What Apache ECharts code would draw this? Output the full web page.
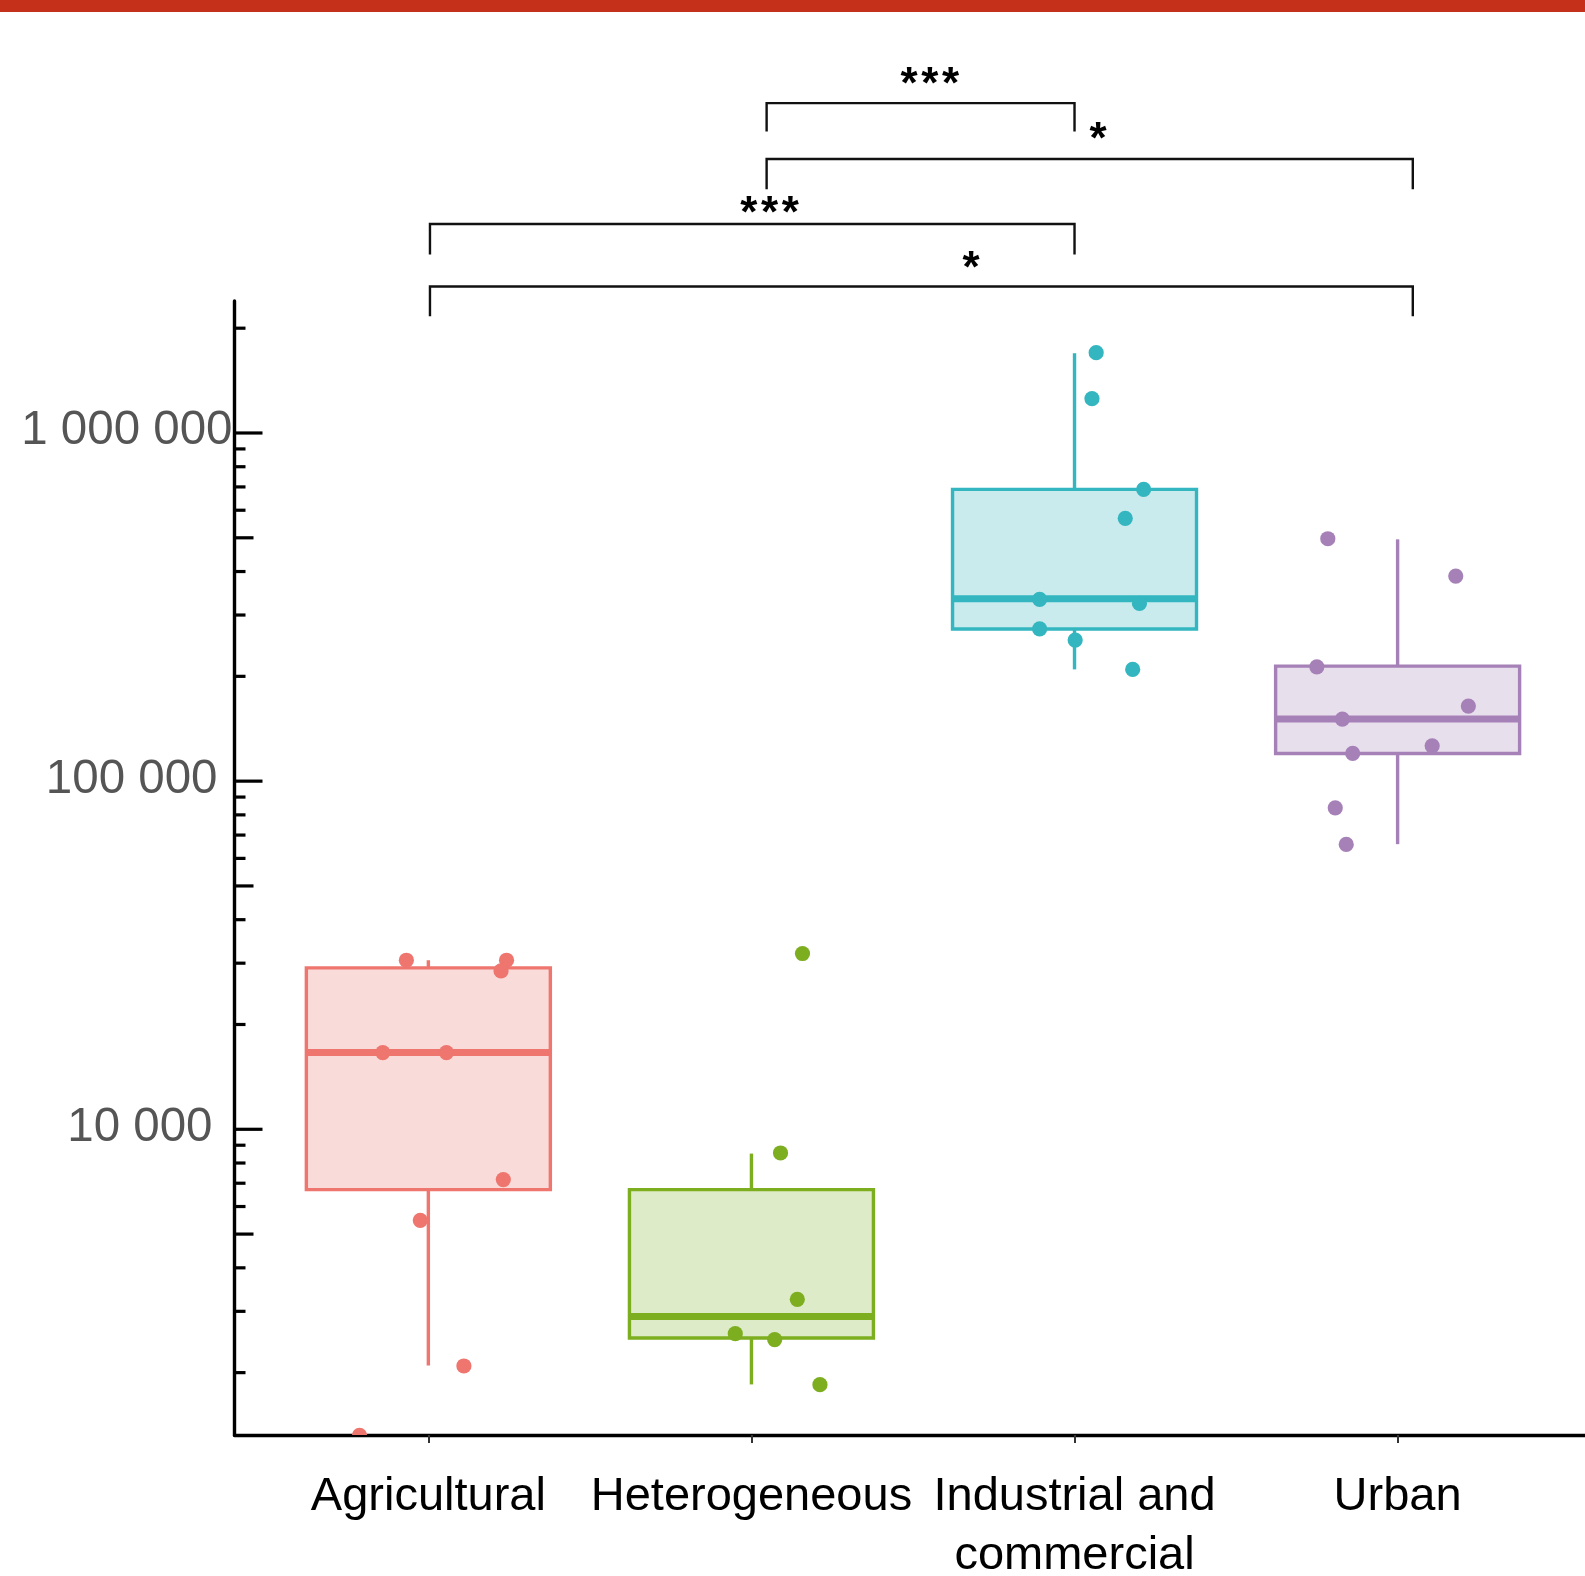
<!DOCTYPE html>
<html>
<head>
<meta charset="utf-8">
<script src="https://cdn.jsdelivr.net/npm/echarts@6/dist/echarts.min.js"></script>
<style>
html,body{margin:0;padding:0;background:#fff;}
#c{width:1585px;height:1576px;}
</style>
</head>
<body>
<div id="c"></div>
<script>
// ---------------- DATA ----------------
const categories = ['Agricultural', 'Heterogeneous', 'Industrial and\ncommercial', 'Urban'];
const categoryIndex = [1, 2, 3, 4];

// box statistics: [lower whisker, Q1, median, Q3, upper whisker]
const agriculturalBox  = [2098, 6709, 16610, 29080, 30590];
const heterogeneousBox = [1850, 2514, 2901, 6709, 8515];
const industrialBox    = [209400, 273400, 334100, 688900, 1694000];
const urbanBox         = [65920, 120100, 150800, 214000, 494900];

// observations: [jittered category position, value]
const agriculturalPoints = [[0.932,30590],[1.242,30590],[1.225,28500],[0.859,16610],[1.056,16610],[1.232,7170],[0.975,5476],[1.110,2090],[0.787,1320]];
const heterogeneousPoints = [[2.158,31980],[2.090,8549],[2.142,3248],[1.950,2588],[2.072,2488],[2.212,1847]];
const industrialPoints = [[3.067,1701000],[3.054,1255000],[3.214,688900],[3.157,568800],[2.892,332700],[3.201,324000],[2.892,273900],[3.002,254200],[3.180,209400]];
const urbanPoints = [[3.784,496900],[4.180,388200],[3.750,213000],[4.219,164300],[3.829,150800],[4.107,126300],[3.861,120100],[3.807,83820],[3.841,65780]];

// y axis ticks (log scale)
const yMajorTicks = [10000, 100000, 1000000];
const yMidTicks = [5000, 50000, 500000];
const yMinorTicks = [2000,3000,4000,6000,7000,8000,9000,
                     20000,30000,40000,60000,70000,80000,90000,
                     200000,300000,400000,600000,700000,800000,900000,
                     2000000];

// significance brackets
const bracketLeft   = [2.047, 2.047, 1.005, 1.005];
const bracketRight  = [3.000, 4.047, 3.000, 4.047];
const bracketBar    = [8.862e6, 6.124e6, 3.985e6, 2.635e6];
const bracketLegEnd = [7.339e6, 5.012e6, 3.256e6, 2.165e6];
const bracketLabels = ['*\u200A*\u200A*', '*', '*\u200A*\u200A*', '*'];
const bracketLabelX = [2.552, 3.073, 2.056, 2.680];
const bracketLabelY = [9.91e6, 6.89e6, 4.245e6, 2.935e6];

// ---------------- STYLE ----------------
const groupColors = ['#EE766F', '#7CAE1F', '#33B6BF', '#A681B8'];
const groupFills  = ['#F9DCDA', '#DEEBC8', '#CAEBEE', '#E8DFEC'];
const FONT = "'Liberation Sans', Arial, sans-serif";
const X_MIN = 0.4, X_MAX = 4.58, Y_MIN = 1324, Y_MAX = 2394000;
const BOX_HALF = 0.3776;
const TICK_LEN = [28, 19, 11];

const boxStats = [agriculturalBox, heterogeneousBox, industrialBox, urbanBox];
const pointSets = [agriculturalPoints, heterogeneousPoints, industrialPoints, urbanPoints];

function fmt(v) { return String(Math.round(v)).replace(/\B(?=(\d{3})+(?!\d))/g, ' '); }

const boxData = boxStats.map((b, i) => [categoryIndex[i]].concat(b));
const tickData = [].concat(
  yMajorTicks.map(v => [X_MIN, v, 0]),
  yMidTicks.map(v => [X_MIN, v, 1]),
  yMinorTicks.map(v => [X_MIN, v, 2])
);
const bracketData = bracketLeft.map((l, i) => [l, bracketBar[i], bracketRight[i], bracketLegEnd[i]]);
const bracketLabelData = bracketLabelX.map((x, i) => [x, bracketLabelY[i]]);

const chart = echarts.init(document.getElementById('c'), null, {renderer: 'canvas'});

const series = [];

// boxes
series.push({
  type: 'custom', name: 'boxes', data: boxData, z: 3, silent: true,
  renderItem: function (params, api) {
    const x = api.value(0);
    const lo = api.coord([x, api.value(1)]);
    const q1 = api.coord([x, api.value(2)]);
    const med = api.coord([x, api.value(3)]);
    const q3 = api.coord([x, api.value(4)]);
    const hi = api.coord([x, api.value(5)]);
    const left = api.coord([x - BOX_HALF, api.value(3)])[0];
    const right = api.coord([x + BOX_HALF, api.value(3)])[0];
    const c = groupColors[params.dataIndex];
    const f = groupFills[params.dataIndex];
    return {
      type: 'group',
      children: [
        {type: 'line', shape: {x1: q3[0], y1: q3[1], x2: hi[0], y2: hi[1]}, style: {stroke: c, lineWidth: 3.4}},
        {type: 'line', shape: {x1: q1[0], y1: q1[1], x2: lo[0], y2: lo[1]}, style: {stroke: c, lineWidth: 3.4}},
        {type: 'rect', shape: {x: left, y: q3[1], width: right - left, height: q1[1] - q3[1]}, style: {fill: f, stroke: c, lineWidth: 3.4}},
        {type: 'line', shape: {x1: left, y1: med[1], x2: right, y2: med[1]}, style: {stroke: c, lineWidth: 7}}
      ]
    };
  }
});

// points
pointSets.forEach((pts, gi) => {
  series.push({
    type: 'custom', name: categories[gi], data: pts, z: 4, clip: true, silent: true,
    renderItem: function (params, api) {
      const p = api.coord([api.value(0), api.value(1)]);
      return {type: 'circle', shape: {cx: p[0], cy: p[1], r: 7.6}, style: {fill: groupColors[gi]}};
    }
  });
});

// y ticks
series.push({
  type: 'custom', name: 'yticks', data: tickData, z: 5, silent: true, clip: false,
  renderItem: function (params, api) {
    const p = api.coord([api.value(0), api.value(1)]);
    const len = TICK_LEN[api.value(2)];
    return {type: 'line', shape: {x1: p[0], y1: p[1], x2: p[0] + len, y2: p[1]}, style: {stroke: '#000', lineWidth: 3.2}};
  }
});

// brackets
series.push({
  type: 'custom', name: 'brackets', data: bracketData, z: 5, silent: true, clip: false,
  renderItem: function (params, api) {
    const a = api.coord([api.value(0), api.value(1)]);
    const b = api.coord([api.value(2), api.value(1)]);
    const la = api.coord([api.value(0), api.value(3)]);
    const lb = api.coord([api.value(2), api.value(3)]);
    return {type: 'polyline', shape: {points: [la, a, b, lb]}, style: {stroke: '#111', lineWidth: 2.4, fill: null}};
  }
});

// bracket labels
series.push({
  type: 'custom', name: 'bracketLabels', data: bracketLabelData, z: 5, silent: true, clip: false,
  renderItem: function (params, api) {
    const p = api.coord([api.value(0), api.value(1)]);
    return {type: 'text', x: p[0], y: p[1], style: {text: bracketLabels[params.dataIndex], fontSize: 44, fontWeight: 'bold', fontFamily: FONT, fill: '#000', align: 'center', verticalAlign: 'middle'}};
  }
});

const richBase = {fontSize: 47.5, fontFamily: FONT, color: '#555'};
const option = {
  animation: false,
  backgroundColor: '#fff',
  graphic: [{type: 'rect', left: 0, top: 0, z: 100, shape: {width: 1585, height: 12}, style: {fill: '#C5301A'}}],
  grid: {left: 234.5, right: 0, top: 301, bottom: 141, containLabel: false, outerBoundsMode: 'none'},
  xAxis: {
    type: 'value', min: X_MIN, max: X_MAX,
    splitLine: {show: false},
    axisLine: {show: true, onZero: false, lineStyle: {color: '#000', width: 3.4}},
    axisTick: {show: true, customValues: categoryIndex, length: 8, lineStyle: {color: '#333', width: 2}},
    axisLabel: {
      customValues: categoryIndex,
      formatter: function (v) { return categories[Math.round(v) - 1] || ''; },
      fontSize: 47, fontFamily: FONT, color: '#000', lineHeight: 59, margin: 33
    }
  },
  yAxis: {
    type: 'log', logBase: 10, min: Y_MIN, max: Y_MAX,
    splitLine: {show: false},
    axisTick: {show: false},
    minorTick: {show: false},
    axisLine: {show: true, onZero: false, lineStyle: {color: '#000', width: 3.4}},
    axisLabel: {
      fontSize: 47.5, fontFamily: FONT, color: '#555', margin: 2,
      formatter: function (v) {
        const e = Math.log10(v), r = Math.round(e);
        if (Math.abs(e - r) > 1e-6) return '';
        return '{e' + r + '|' + fmt(Math.pow(10, r)) + '}';
      },
      rich: {
        e6: Object.assign({padding: [0, 0, 4, 0]}, richBase),
        e5: Object.assign({padding: [0, 15, 2, 0]}, richBase),
        e4: Object.assign({padding: [0, 20, 2, 0]}, richBase)
      }
    }
  },
  series: series
};
chart.setOption(option);
</script>
</body>
</html>
